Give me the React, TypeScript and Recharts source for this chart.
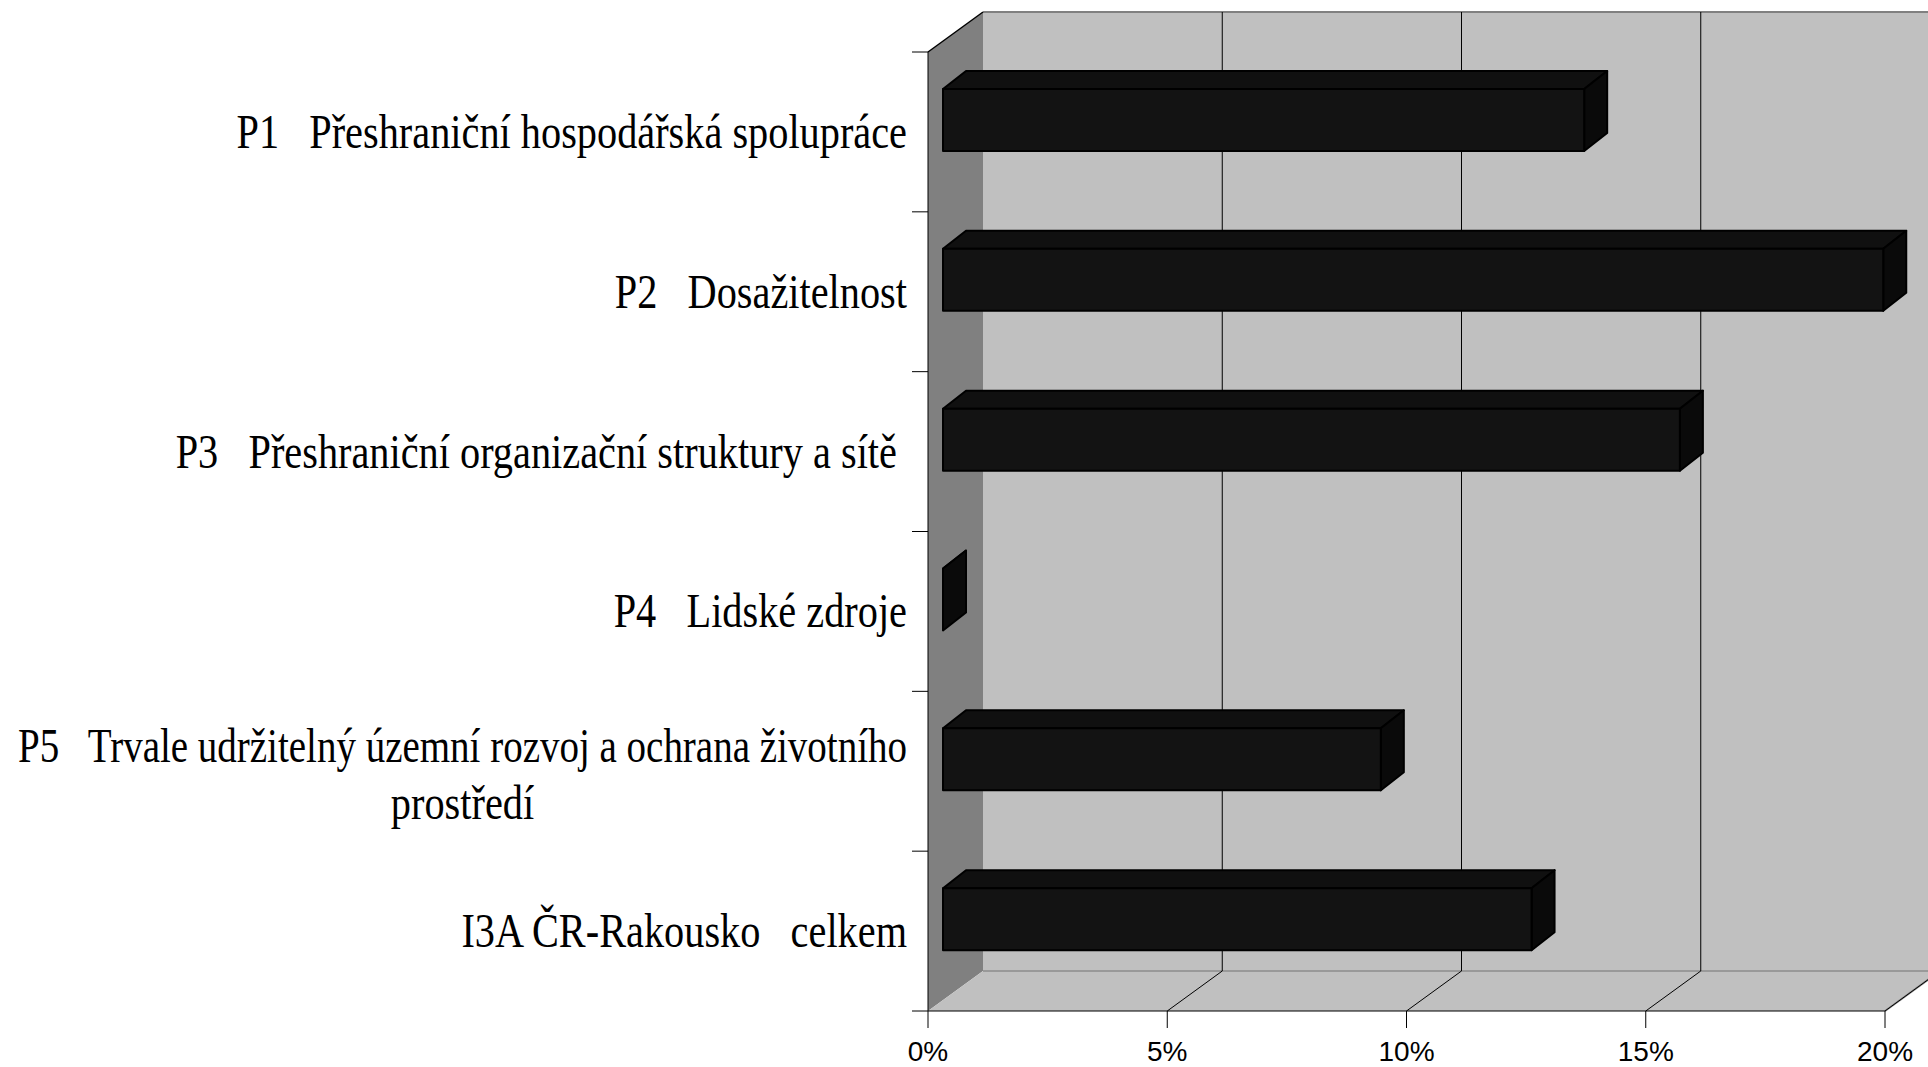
import { BarChart, Bar, XAxis, YAxis, CartesianGrid, ReferenceArea } from "recharts";

// popisky kategorií (\n = zalomení řádku)
const categories = [
  "P1   Přeshraniční hospodářská spolupráce",
  "P2   Dosažitelnost",
  "P3   Přeshraniční organizační struktury a sítě ",
  "P4   Lidské zdroje",
  "P5   Trvale udržitelný územní rozvoj a ochrana životního\nprostředí",
  "I3A ČR-Rakousko   celkem",
];

// podíl v %
const shares = [13.4, 19.65, 15.4, 0, 9.15, 12.3];

const xTicks = [0, 5, 10, 15, 20];

const data = categories.map((name, i) => ({ name, share: shares[i] }));

// 3D hloubka stěn a sloupců
const WALL_DX = 55;
const WALL_DY = -40;
const BAR_X0 = 15;
const BAR_Y0 = -12;
const BAR_DX = 23;
const BAR_DY = -18;

// šířka zalomeného popisku
const WRAP_W = 889;

const SERIF = "'Liberation Serif', 'Times New Roman', serif";
const SANS = "'Liberation Sans', Arial, sans-serif";

const Walls = (p: any) => {
  const { x, y, width, height } = p;
  const bx = x + WALL_DX;
  const by = y + WALL_DY;
  const bottom = y + height;
  const bBottom = by + height;
  return (
    <g>
      <rect x={bx} y={by} width={width} height={height} fill="#c0c0c0" />
      <polygon points={`${x},${y} ${bx},${by} ${bx},${bBottom} ${x},${bottom}`} fill="#808080" />
      <polygon
        points={`${x},${bottom} ${x + width},${bottom} ${bx + width},${bBottom} ${bx},${bBottom}`}
        fill="#c0c0c0"
      />
      <line x1={bx} y1={by} x2={bx + width} y2={by} stroke="#808080" strokeWidth={2} />
      <line x1={x} y1={y} x2={bx} y2={by} stroke="#000" strokeWidth={1.5} />
      <line x1={bx} y1={bBottom} x2={bx + width} y2={bBottom} stroke="#999" strokeWidth={2} />
      <line x1={x + width} y1={bottom} x2={bx + width} y2={bBottom} stroke="#888" strokeWidth={2} />
    </g>
  );
};

const GridLine = (p: any) => {
  const { x1, y1, y2, index } = p;
  if (index === 0) return <g key={`gl-${x1}`} />;
  return (
    <g key={`gl-${x1}`}>
      <line x1={x1 + WALL_DX} y1={y1 + WALL_DY} x2={x1 + WALL_DX} y2={y2 + WALL_DY} stroke="#000" strokeWidth={1} />
      <line x1={x1} y1={y2} x2={x1 + WALL_DX} y2={y2 + WALL_DY} stroke="#000" strokeWidth={1} />
    </g>
  );
};

const Box3D = (p: any) => {
  const { x, y, height } = p;
  const w = Math.max(p.width || 0, 0);
  const fx = x + BAR_X0;
  const fy = y + BAR_Y0;
  return (
    <g stroke="#000" strokeWidth={2} strokeLinejoin="round">
      <polygon
        points={`${fx},${fy} ${fx + BAR_DX},${fy + BAR_DY} ${fx + w + BAR_DX},${fy + BAR_DY} ${fx + w},${fy}`}
        fill="#101010"
      />
      <polygon
        points={`${fx + w},${fy} ${fx + w + BAR_DX},${fy + BAR_DY} ${fx + w + BAR_DX},${fy + height + BAR_DY} ${fx + w},${fy + height}`}
        fill="#0a0a0a"
      />
      <rect x={fx} y={fy} width={w} height={height} fill="#131313" />
    </g>
  );
};

const CategoryTick = (p: any) => {
  const { x, y, payload, index, visibleTicksCount } = p;
  const half = payload.offset ?? 79.8;
  const axisX = x + 21;
  const lines = String(payload.value).split("\n");
  const sx = 0.84;
  const last = index === (visibleTicksCount ?? 6) - 1;
  return (
    <g>
      <line x1={axisX - 16} y1={y - half} x2={axisX} y2={y - half} stroke="#000" />
      {last && <line x1={axisX - 16} y1={y + half} x2={axisX} y2={y + half} stroke="#000" />}
      {lines.length === 1 ? (
        <text
          transform={`translate(${x},${y + 16}) scale(${sx},1)`}
          textAnchor="end"
          fontFamily={SERIF}
          fontSize={48}
          fill="#000"
          style={{ whiteSpace: "pre" }}
        >
          {lines[0]}
        </text>
      ) : (
        <>
          <text
            x={x}
            y={y - 9}
            textAnchor="end"
            textLength={WRAP_W}
            lengthAdjust="spacingAndGlyphs"
            fontFamily={SERIF}
            fontSize={48}
            fill="#000"
            style={{ whiteSpace: "pre" }}
          >
            {lines[0]}
          </text>
          <text
            transform={`translate(${x - WRAP_W / 2},${y + 48}) scale(${sx},1)`}
            textAnchor="middle"
            fontFamily={SERIF}
            fontSize={48}
            fill="#000"
          >
            {lines[1]}
          </text>
        </>
      )}
    </g>
  );
};

const PercentTick = (p: any) => (
  <text x={p.x} y={p.y + 33} textAnchor="middle" fontFamily={SANS} fontSize={28} fill="#000">
    {p.payload.value}%
  </text>
);

export default function App() {
  return (
    <div
      style={{
        position: "absolute",
        left: 0,
        top: 0,
        width: 1928,
        height: 1067,
        overflow: "hidden",
        background: "#fff",
      }}
    >
      <BarChart
        width={1928}
        height={1067}
        data={data}
        layout="vertical"
        margin={{ top: 52, right: 43, bottom: 16, left: 0 }}
        barSize={62}
      >
        <ReferenceArea x1={0} x2={20} shape={Walls} ifOverflow="visible" zIndex={-300} />
        <CartesianGrid horizontal={false} vertical={GridLine} zIndex={-100} />
        <XAxis
          type="number"
          domain={[0, 20]}
          ticks={xTicks}
          interval={0}
          height={40}
          tickSize={17}
          tickMargin={0}
          axisLine={{ stroke: "#000" }}
          tickLine={{ stroke: "#000" }}
          tick={PercentTick}
        />
        <YAxis
          type="category"
          dataKey="name"
          width={928}
          tickSize={16}
          tickMargin={5}
          tickLine={false}
          axisLine={{ stroke: "#000" }}
          tick={CategoryTick}
          interval={0}
        />
        <Bar dataKey="share" shape={Box3D} isAnimationActive={false} />
      </BarChart>
    </div>
  );
}
